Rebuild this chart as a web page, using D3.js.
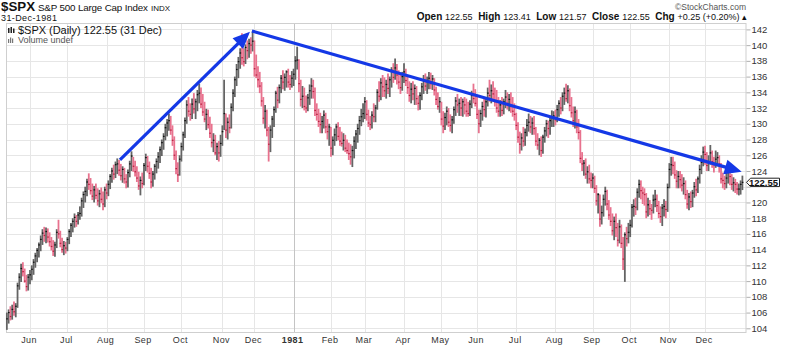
<!DOCTYPE html>
<html>
<head>
<meta charset="utf-8">
<script src="https://cdn.jsdelivr.net/npm/d3@7"></script>
<style>
  body { margin: 0; background: #fff; }
  svg { display: block; font-family: "Liberation Sans", Arial, sans-serif; }
</style>
</head>
<body>
<svg id="chart" width="800" height="347"></svg>
<script>
// ---- S&P 500 daily bars, 13-May-1980 .. 31-Dec-1981 (one row per month) ----
const highs = [
  106.0,106.4,106.8,107.0,107.4,107.2,109.8,111.0,112.2,112.4,111.6,110.8,110.9,
  111.4,112.0,112.8,113.6,114.2,114.9,115.8,116.6,116.9,116.8,116.7,116.2,115.6,115.2,115.0,116.6,117.8,116.4,115.5,115.1,115.0,
  115.6,116.6,117.4,118.0,118.6,118.4,118.8,119.5,120.6,121.4,122.0,123.0,123.7,123.1,122.4,122.1,122.4,121.8,121.6,121.9,121.4,122.0,
  122.4,122.8,123.6,124.4,124.8,125.2,125.6,125.4,124.9,124.6,124.4,123.6,124.2,125.3,126.5,125.8,125.3,124.6,123.9,123.3,123.8,
  125.0,126.2,125.9,125.2,124.4,124.0,124.9,125.6,126.4,127.1,128.0,128.8,130.0,130.6,131.3,131.0,129.8,128.4,126.6,125.1,126.0,
  127.6,129.0,130.8,133.0,133.4,132.6,133.2,133.9,133.2,134.3,135.1,134.6,133.8,132.8,131.9,131.8,130.9,130.0,128.8,128.6,127.6,127.8,128.6,
  129.8,135.6,131.3,130.8,131.2,132.6,134.4,136.0,137.6,138.5,139.6,141.5,139.6,140.1,140.6,140.8,141.0,141.7,
  140.6,138.8,137.3,136.6,135.3,133.4,132.4,131.8,129.6,129.8,131.0,132.2,134.2,134.7,135.0,136.2,136.8,136.4,136.8,137.0,136.2,136.7,
  137.0,138.6,139.8,138.2,135.6,134.8,134.6,133.6,133.8,135.0,135.8,135.6,134.6,132.6,131.9,131.4,131.0,131.7,131.4,130.6,130.0,
  129.6,128.4,129.4,130.0,130.2,129.6,129.0,128.8,128.6,128.0,127.6,127.4,127.2,128.4,129.2,130.0,131.0,131.9,132.6,
  133.4,133.0,131.8,131.0,131.6,132.6,132.4,134.4,135.4,135.8,136.2,135.9,135.6,136.4,136.0,137.2,137.7,138.3,137.6,136.8,136.2,136.6,
  137.7,137.0,136.0,135.4,135.2,135.4,135.0,134.8,133.6,134.0,135.2,136.2,136.4,136.0,136.6,136.5,136.2,135.8,134.7,134.0,133.4,
  132.8,131.6,131.4,132.2,132.0,131.2,131.0,132.2,133.4,133.8,133.2,133.4,133.2,133.4,133.2,132.8,133.0,134.2,135.1,134.4,
  133.4,131.8,131.8,132.8,133.4,133.2,134.6,135.6,135.0,135.4,134.6,134.3,133.4,133.0,133.4,133.2,134.3,134.0,133.8,134.0,133.4,132.6,
  131.4,130.2,129.0,128.8,129.6,129.4,130.6,131.3,131.0,130.8,131.0,129.6,128.8,128.2,128.4,128.6,129.6,130.5,130.4,130.8,131.7,131.6,
  131.8,132.4,133.0,133.4,134.0,134.6,135.1,134.9,134.5,133.4,132.2,132.2,131.8,130.6,129.2,126.4,125.4,125.6,124.6,124.8,123.8,
  123.7,123.4,122.2,121.2,121.0,119.6,121.0,122.0,121.6,120.3,119.4,118.6,118.2,118.6,117.4,117.8,117.2,115.6,116.2,116.9,117.4,
  117.8,119.8,120.4,120.6,121.8,122.9,122.8,122.0,121.8,121.2,120.6,120.3,119.8,121.0,121.6,121.0,120.2,119.5,119.8,120.4,120.2,122.4,
  125.0,125.8,125.8,125.2,124.1,124.0,124.0,123.6,123.2,122.8,121.6,121.2,121.4,121.6,122.6,123.0,123.3,124.8,126.0,127.1,
  127.2,126.4,126.0,127.3,126.6,125.8,126.6,126.4,126.0,125.0,123.8,123.4,124.0,124.6,124.3,123.6,123.2,123.0,122.6,122.4,122.8,123.41
];
const lows = [
  103.8,104.6,105.0,105.1,105.6,105.4,106.6,108.9,109.9,110.6,109.8,108.7,108.8,
  109.6,110.1,110.8,111.7,112.4,113.0,113.8,114.6,115.0,114.8,114.9,114.4,113.9,113.2,113.1,114.2,115.4,114.3,113.6,113.3,113.5,
  113.8,114.7,115.6,116.2,116.8,116.9,117.2,117.8,118.2,119.3,120.0,120.8,121.6,121.0,120.3,120.0,120.4,119.6,119.4,119.9,119.0,119.4,
  120.4,120.8,121.7,122.5,122.9,123.1,123.6,123.4,122.8,122.5,122.4,121.8,121.9,123.2,124.0,123.9,123.3,122.6,121.6,120.9,121.8,
  122.2,124.0,123.8,123.0,121.8,122.0,122.9,123.7,124.3,125.0,125.9,126.7,127.9,128.4,129.1,128.6,127.2,125.4,123.6,122.6,123.4,
  125.2,126.6,128.2,130.0,130.9,130.4,130.6,131.3,130.6,131.6,132.6,132.0,131.0,130.2,129.2,129.4,128.2,127.0,126.4,126.0,125.4,125.2,125.8,
  127.2,129.2,128.2,128.0,128.8,129.4,131.6,133.4,134.8,135.8,137.0,137.5,137.3,137.6,138.2,138.4,138.9,139.2,
  136.0,135.8,134.6,133.9,132.2,130.0,129.4,128.4,125.2,126.4,128.2,129.6,131.4,132.0,132.6,133.9,134.4,134.2,134.6,134.6,134.3,134.6,
  134.8,135.6,136.9,134.0,132.2,132.0,131.7,131.4,131.6,132.4,133.2,133.2,131.0,130.4,129.6,128.8,128.8,129.4,128.8,128.0,127.2,
  125.8,126.0,127.2,127.8,127.9,127.2,127.1,126.6,126.4,126.2,125.4,124.8,124.5,125.6,126.8,127.6,128.6,129.7,130.2,
  130.6,130.4,129.6,129.2,129.4,130.2,130.2,131.8,132.8,133.0,133.4,133.4,133.2,133.8,133.4,134.6,135.2,135.6,135.0,134.4,133.8,134.2,
  135.2,134.8,133.8,132.8,132.6,133.0,132.4,132.4,131.7,131.8,133.0,133.8,134.2,133.8,134.4,134.4,134.3,133.6,132.4,131.8,131.4,
  129.8,128.8,129.2,129.8,129.6,129.0,128.8,130.0,131.0,131.4,131.0,131.0,130.9,131.2,130.9,130.9,131.0,132.0,132.6,132.2,
  130.6,128.8,129.6,130.4,130.9,130.8,132.2,132.8,132.6,132.8,132.2,131.4,130.9,130.9,131.0,131.2,132.0,131.8,131.6,131.4,130.9,130.4,
  129.2,127.6,126.2,126.6,127.1,127.2,128.4,129.0,128.8,128.6,128.6,127.2,126.7,126.0,125.8,126.2,127.6,128.4,128.2,128.6,129.6,129.6,
  129.8,130.2,130.9,131.2,131.6,132.4,132.8,132.6,131.6,130.8,129.6,129.4,128.8,128.0,125.0,124.0,123.4,123.0,122.4,122.4,121.8,
  121.8,121.2,119.6,118.6,116.9,117.2,118.2,119.6,119.0,117.8,117.0,115.8,115.2,115.6,114.4,114.8,114.2,111.4,109.9,114.4,114.8,
  115.6,116.8,118.2,118.4,119.0,120.6,120.4,119.8,119.6,118.0,118.2,118.4,117.8,118.6,119.4,118.8,118.0,117.4,117.0,118.2,118.0,118.8,
  121.8,123.4,123.6,123.0,121.8,121.8,121.8,121.4,121.0,120.4,119.2,119.0,119.3,119.4,120.6,120.8,121.2,122.4,123.6,124.6,
  124.8,124.0,124.0,124.8,124.4,123.8,124.4,124.6,123.8,122.4,121.8,121.6,121.8,122.4,122.2,121.6,121.4,121.2,121.0,120.9,121.0,121.57
];
const closes = [
  105.2,106.0,105.5,106.4,106.1,106.8,109.4,110.5,111.6,111.2,110.0,109.3,110.5,
  110.8,111.5,112.4,113.2,113.9,114.6,115.3,116.1,115.8,116.3,115.6,115.0,114.4,113.8,114.6,116.2,116.0,114.8,114.0,114.5,114.2,
  115.3,116.3,117.1,117.6,118.1,117.6,118.4,118.6,120.2,121.0,121.4,122.6,122.3,121.5,120.8,121.6,120.9,120.2,121.1,120.4,119.8,121.6,
  121.2,122.3,123.3,124.0,123.6,124.8,124.9,124.1,123.4,124.2,123.0,122.6,123.8,124.9,125.9,124.6,123.9,123.1,122.1,122.8,122.4,
  124.7,125.7,124.6,123.7,122.6,123.6,124.6,125.2,125.8,126.7,127.6,128.4,129.5,130.1,130.4,129.2,127.9,126.0,124.3,123.5,125.5,
  127.1,128.6,130.4,132.4,131.6,131.2,132.5,131.9,132.8,133.7,133.9,132.5,131.5,130.6,131.2,129.9,128.8,127.6,127.9,126.3,127.1,126.3,127.5,
  129.0,131.3,129.2,130.2,129.5,132.1,133.9,135.6,136.9,137.9,139.0,138.4,137.9,139.7,139.3,140.2,140.0,140.5,
  137.0,136.2,135.6,134.8,132.9,130.7,131.6,129.2,127.4,129.2,130.6,131.8,133.9,133.0,134.6,135.8,135.3,135.9,136.6,135.3,135.0,135.8,
  136.3,138.0,138.1,135.1,133.1,133.5,132.2,132.0,133.3,134.2,134.8,134.1,131.7,131.2,130.3,129.9,130.3,131.1,129.6,129.0,129.6,
  126.9,127.9,128.6,129.6,128.4,127.8,127.5,127.9,126.9,126.6,126.2,125.8,126.6,127.8,128.7,129.4,130.4,130.9,131.3,
  132.8,131.2,130.1,129.9,131.1,130.9,132.0,134.0,133.5,135.2,134.7,134.2,135.0,134.5,135.6,136.8,135.9,137.1,136.2,135.3,134.6,136.0,
  136.6,135.5,134.6,133.6,134.4,133.8,134.5,133.2,132.6,133.6,134.7,135.4,134.8,135.5,135.8,135.1,135.7,134.3,133.1,132.2,132.8,
  130.6,129.7,130.8,131.6,130.2,129.8,130.5,131.8,132.9,132.4,132.6,132.0,132.8,132.4,131.6,131.3,132.5,133.6,133.2,132.6,
  131.2,130.0,131.3,132.2,131.8,132.8,133.9,133.6,134.2,133.8,132.8,132.0,131.6,132.4,131.7,132.8,133.4,132.6,133.1,132.2,131.6,131.2,
  129.8,128.3,127.4,128.2,127.8,128.9,129.8,130.2,129.6,130.1,129.4,127.8,127.3,127.9,126.6,128.3,129.1,130.0,129.4,130.4,130.9,131.0,
  130.5,131.8,132.6,132.0,133.5,133.9,133.2,134.2,132.3,131.4,130.4,131.5,129.6,128.9,125.6,124.9,125.0,123.6,123.9,123.0,122.8,
  123.1,121.8,120.2,121.0,117.9,118.7,120.4,121.4,119.8,118.4,117.6,116.4,117.6,116.8,115.2,116.9,114.8,112.8,115.9,115.4,116.2,
  117.1,119.4,119.5,119.4,121.3,122.3,121.5,121.2,121.0,118.8,119.7,119.2,119.0,120.3,120.4,119.6,118.6,118.2,119.3,119.5,119.1,121.9,
  124.2,124.8,124.7,123.5,122.7,123.3,122.9,122.2,122.4,121.0,119.8,120.7,120.1,121.2,122.0,121.6,123.0,124.2,125.1,126.4,
  126.1,124.7,125.1,126.3,125.2,124.8,125.5,125.7,124.9,123.0,122.8,122.4,123.1,124.0,123.3,122.3,122.5,122.3,121.7,121.7,122.3,122.55
];
const lastOpen = 122.55;

// Exchange holidays in the period (market closed)
const holidays = ["1980-05-26","1980-07-04","1980-09-01","1980-11-04","1980-11-27","1980-12-25",
  "1981-01-01","1981-02-16","1981-04-17","1981-05-25","1981-07-03","1981-09-07","1981-11-26","1981-12-25"];

// Axis labels
const monthLabels = ["Jun","Jul","Aug","Sep","Oct","Nov","Dec","1981","Feb","Mar","Apr","May",
  "Jun","Jul","Aug","Sep","Oct","Nov","Dec"];
const priceTicks = d3.range(104, 143, 2);

// Trend arrows: [fromDay, fromPrice, toDay, toPrice] (trading-day index)
const trendArrows = [
  [63.5, 125.4, 136.5, 141.7],
  [137.6, 141.8, 412.6, 123.9]
];

// ---- trading calendar ----
const fmtDay = d3.utcFormat("%Y-%m-%d");
const holidaySet = new Set(holidays);
const tradingDays = d3.utcDays(new Date(Date.UTC(1980, 4, 13)), new Date(Date.UTC(1982, 0, 1)))
  .filter(d => d.getUTCDay() % 6 !== 0 && !holidaySet.has(fmtDay(d)))
  .slice(0, closes.length);
const monthStarts = [];
tradingDays.forEach((d, i) => {
  if (i > 0 && d.getUTCMonth() !== tradingDays[i - 1].getUTCMonth()) monthStarts.push(i);
});

// ---- layout ----
const svg = d3.select("#chart");
const frame = { left: 6, right: 746.5, top: 23, bottom: 332 };
const x = d3.scaleLinear().domain([0, closes.length - 1]).range([6.85, 742.4]);
const y = d3.scaleLinear().domain([104, 142]).range([328.3, 29.4]);
const last = closes.length - 1;

// grid
const grid = svg.append("g");
grid.selectAll("line.h").data(priceTicks).join("line")
  .attr("x1", frame.left).attr("x2", frame.right)
  .attr("y1", d => Math.round(y(d)) + 0.5).attr("y2", d => Math.round(y(d)) + 0.5)
  .attr("stroke", "#e6e6e6").attr("stroke-width", 1);
grid.selectAll("line.v").data(monthStarts).join("line")
  .attr("x1", d => Math.round(x(d)) + 0.5).attr("x2", d => Math.round(x(d)) + 0.5)
  .attr("y1", frame.top).attr("y2", frame.bottom)
  .attr("stroke", (d, i) => monthLabels[i] === "1981" ? "#c4c4c4" : "#e6e6e6")
  .attr("stroke-width", 1);

// frame
svg.append("rect")
  .attr("x", frame.left + 0.5).attr("y", frame.top + 0.5)
  .attr("width", frame.right - frame.left - 1).attr("height", frame.bottom - frame.top)
  .attr("fill", "none").attr("stroke", "#cfcfcf");

// right price axis (the label under the last-price tag is left out)
const tagValue = Math.round(closes[last] / 2) * 2;
const yAxis = svg.append("g")
  .attr("transform", `translate(${frame.right},0)`)
  .call(d3.axisRight(y).tickValues(priceTicks).tickSize(4).tickPadding(1)
    .tickFormat(d => d === tagValue ? "" : d3.format("d")(d)));
yAxis.select(".domain").remove();
yAxis.selectAll(".tick line").attr("stroke", "#b0b0b0");
yAxis.selectAll(".tick text").attr("fill", "#333").attr("font-size", "9.5px")
  .attr("font-family", "Liberation Sans, Arial, sans-serif");

// bottom month axis
const xAxis = svg.append("g")
  .attr("transform", `translate(-1.5,${frame.bottom})`)
  .call(d3.axisBottom(x).tickValues(monthStarts).tickSize(0).tickPadding(5)
    .tickFormat((d, i) => monthLabels[i]));
xAxis.select(".domain").remove();
xAxis.selectAll(".tick text").attr("fill", "#333").attr("font-size", "9px")
  .attr("font-family", "Liberation Sans, Arial, sans-serif")
  .attr("letter-spacing", "0.4px")
  .attr("font-weight", (d, i) => monthLabels[i] === "1981" ? "bold" : "normal");

// price bars (high-low range with close tick); colour by change from prior close
const upColor = "#646464", downColor = "#e8728e";
const bars = svg.append("g");
const idx = d3.range(closes.length);
const isDown = i => i > 0 && closes[i] < closes[i - 1];
bars.selectAll("line.bar").data(idx).join("line")
  .attr("x1", i => x(i)).attr("x2", i => x(i))
  .attr("y1", i => y(highs[i])).attr("y2", i => y(lows[i]))
  .attr("stroke", i => isDown(i) ? downColor : upColor)
  .attr("stroke-width", 1.8);
bars.selectAll("rect.close").data(idx).join("rect")
  .attr("x", i => x(i) - 0.6).attr("y", i => y(closes[i]) - 0.6)
  .attr("width", 1.6).attr("height", 1.2)
  .attr("fill", i => isDown(i) ? "#b8203f" : "#111");

// trend arrows
const arrowColor = "#1438e6";
const arrows = svg.append("g");
trendArrows.forEach(([d1, p1, d2, p2]) => {
  const x1 = x(d1), y1 = y(p1), x2 = x(d2), y2 = y(p2);
  const a = Math.atan2(y2 - y1, x2 - x1), len = 17, hw = 7.5;
  const bx = x2 - len * Math.cos(a), by = y2 - len * Math.sin(a);
  arrows.append("line")
    .attr("x1", x1).attr("y1", y1).attr("x2", bx + 2 * Math.cos(a)).attr("y2", by + 2 * Math.sin(a))
    .attr("stroke", arrowColor).attr("stroke-width", 3.2);
  arrows.append("polygon")
    .attr("points", [[x2, y2],
      [bx + hw * Math.sin(a), by - hw * Math.cos(a)],
      [bx - hw * Math.sin(a), by + hw * Math.cos(a)]].map(p => p.join(",")).join(" "))
    .attr("fill", arrowColor);
});

// last-price tag on the axis
const tagY = y(closes[last]);
svg.append("path")
  .attr("d", `M${frame.right},${tagY} L${frame.right + 4},${tagY - 4.2} L779.5,${tagY - 4.2} L779.5,${tagY + 4.2} L${frame.right + 4},${tagY + 4.2} Z`)
  .attr("fill", "#fff").attr("stroke", "#222").attr("stroke-width", 1);
svg.append("text")
  .attr("x", 763.5).attr("y", tagY + 3.4).attr("text-anchor", "middle")
  .attr("font-size", "9.5px").attr("font-weight", "bold").attr("fill", "#111")
  .text(closes[last].toFixed(2));

// header
const fmt2 = d3.format(".2f");
const chg = closes[last] - closes[last - 1];
const head = svg.append("g").attr("fill", "#111");
head.append("text").attr("x", 1).attr("y", 10.5).attr("font-size", "12px").attr("font-weight", "bold")
  .attr("textLength", 34).attr("lengthAdjust", "spacingAndGlyphs").text("$SPX");
head.append("text").attr("x", 38).attr("y", 10.5).attr("font-size", "9.8px")
  .attr("textLength", 110).attr("lengthAdjust", "spacing").text("S&P 500 Large Cap Index");
head.append("text").attr("x", 151).attr("y", 10.5).attr("font-size", "8px").text("INDX");
head.append("text").attr("x", 1).attr("y", 21).attr("font-size", "9px")
  .attr("textLength", 56).attr("lengthAdjust", "spacing").text("31-Dec-1981");
head.append("text").attr("x", 746).attr("y", 10).attr("text-anchor", "end")
  .attr("font-size", "8.5px").attr("fill", "#555").text("\u00A9StockCharts.com");

const quote = head.append("text").attr("x", 747).attr("y", 19.5).attr("text-anchor", "end")
  .attr("font-size", "9px").attr("xml:space", "preserve");
const parts = [
  ["Open", fmt2(lastOpen)], ["High", fmt2(highs[last])], ["Low", fmt2(lows[last])],
  ["Close", fmt2(closes[last])],
  ["Chg", `+${fmt2(chg)} (+${fmt2(chg / closes[last - 1] * 100)}%) \u25B4`]
];
parts.forEach(([k, v], j) => {
  quote.append("tspan").attr("font-weight", "bold").attr("font-size", "10px").text((j ? "  " : "") + k + " ");
  quote.append("tspan").text(v);
});

// legend inside the plot
const leg = svg.append("g");
leg.append("rect").attr("x", 8).attr("y", 28).attr("width", 1.5).attr("height", 5).attr("fill", "#222");
leg.append("rect").attr("x", 10.5).attr("y", 27).attr("width", 1.5).attr("height", 6).attr("fill", "#222");
leg.append("rect").attr("x", 13).attr("y", 28.5).attr("width", 1.5).attr("height", 4.5).attr("fill", "#222");
leg.append("text").attr("x", 18).attr("y", 34).attr("font-size", "11px").attr("fill", "#111")
  .attr("textLength", 144).attr("lengthAdjust", "spacing")
  .text(`$SPX (Daily) ${fmt2(closes[last])} (31 Dec)`);
leg.append("rect").attr("x", 8).attr("y", 39).attr("width", 1.2).attr("height", 4).attr("fill", "#777");
leg.append("rect").attr("x", 10).attr("y", 37.5).attr("width", 1.2).attr("height", 5.5).attr("fill", "#777");
leg.append("rect").attr("x", 12).attr("y", 38.5).attr("width", 1.2).attr("height", 4.5).attr("fill", "#777");
leg.append("text").attr("x", 18).attr("y", 43).attr("font-size", "9px").attr("fill", "#555")
  .text("Volume undef");
</script>
</body>
</html>
